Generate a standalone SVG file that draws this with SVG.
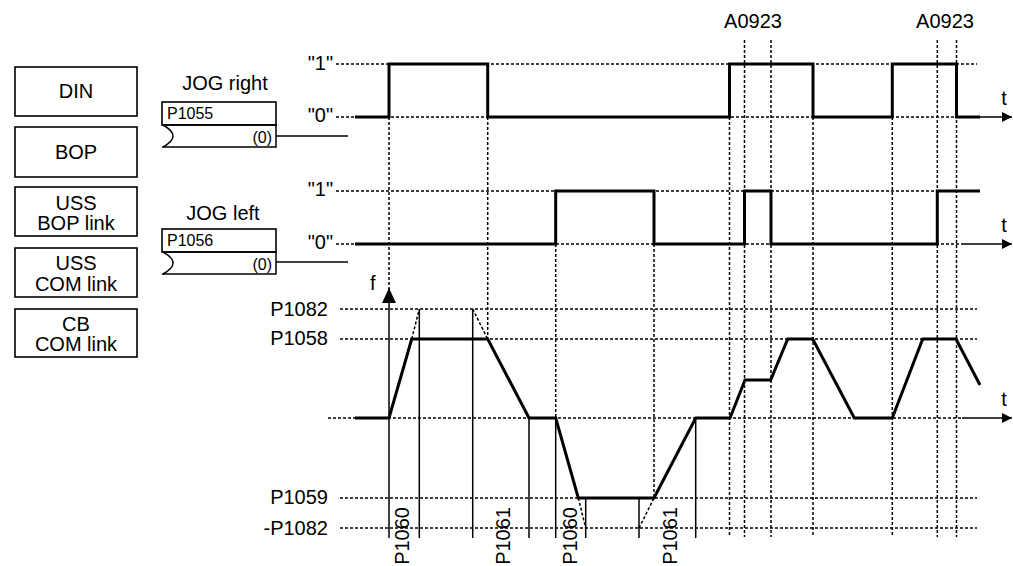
<svg xmlns="http://www.w3.org/2000/svg" width="1013" height="566" viewBox="0 0 1013 566">
<defs>
<marker id="arr" markerWidth="10" markerHeight="10" refX="10" refY="5" orient="auto" markerUnits="userSpaceOnUse"><path d="M0,0 L10,5 L0,10 z" fill="#000"/></marker>
<marker id="arrf" markerWidth="15" markerHeight="14" refX="15" refY="7" orient="auto" markerUnits="userSpaceOnUse"><path d="M0,0 L15,7 L0,14 z" fill="#000"/></marker>
<style>
text{font-family:"Liberation Sans",Arial,sans-serif;font-size:20px;fill:#000}
.sm{font-size:16px}
.box{fill:#fff;stroke:#000;stroke-width:1.6}
.dot{stroke:#000;stroke-width:1.5;stroke-dasharray:3 2;fill:none}
.sig{stroke:#000;stroke-width:3;fill:none;stroke-linejoin:miter}
.thin{stroke:#000;stroke-width:1.5;fill:none}
.c{text-anchor:middle}
.r{text-anchor:end}
</style>
</defs>
<rect width="1013" height="566" fill="#fff"/>

<g id="src-din"><rect class="box" x="15" y="67" width="122" height="49"/><text class="c" x="76" y="98">DIN</text></g>
<g id="src-bop"><rect class="box" x="15" y="127" width="122" height="50"/><text class="c" x="76" y="159">BOP</text></g>
<g id="src-uss-bop"><rect class="box" x="15" y="187" width="122" height="49"/><text class="c" x="76" y="210">USS</text><text class="c" x="76" y="230">BOP link</text></g>
<g id="src-uss-com"><rect class="box" x="15" y="248" width="122" height="49"/><text class="c" x="76" y="270">USS</text><text class="c" x="76" y="291">COM link</text></g>
<g id="src-cb-com"><rect class="box" x="15" y="309" width="122" height="48"/><text class="c" x="76" y="331">CB</text><text class="c" x="76" y="351">COM link</text></g>

<g id="jog-right">
<text class="c" x="225" y="90">JOG right</text>
<rect class="box" x="162" y="102" width="114" height="23"/>
<text class="sm" x="167" y="119">P1055</text>
<path class="thin" d="M163,125 H276 V147 H162" stroke-width="1.6"/>
<path class="thin" d="M163,125 Q183,136 163,147" stroke-width="1.6"/>
<text class="sm r" x="272" y="143">(0)</text>
</g>
<g id="jog-left">
<text class="c" x="223" y="220">JOG left</text>
<rect class="box" x="162" y="229" width="114" height="23"/>
<text class="sm" x="167" y="246">P1056</text>
<path class="thin" d="M163,252 H276 V274 H162" stroke-width="1.6"/>
<path class="thin" d="M163,252 Q183,263 163,274" stroke-width="1.6"/>
<text class="sm r" x="272" y="270">(0)</text>
</g>

<g id="connectors">
<line class="thin" x1="276" y1="136" x2="348" y2="136" stroke-width="1.6"/>
<line class="thin" x1="276" y1="262" x2="348" y2="262" stroke-width="1.6"/>
</g>

<g id="grid">
<line class="dot" x1="336" y1="64" x2="977" y2="64"/>
<line class="dot" x1="336" y1="117" x2="980" y2="117"/>
<line class="dot" x1="336" y1="191" x2="977" y2="191"/>
<line class="dot" x1="336" y1="244" x2="962" y2="244"/>
<line class="dot" x1="340" y1="309" x2="977" y2="309"/>
<line class="dot" x1="340" y1="339" x2="977" y2="339"/>
<line class="dot" x1="328" y1="418" x2="962" y2="418"/>
<line class="dot" x1="340" y1="498" x2="977" y2="498"/>
<line class="dot" x1="340" y1="528" x2="977" y2="528"/>
<line class="dot" x1="389" y1="117" x2="389" y2="290"/>
<line class="dot" x1="487.7" y1="117" x2="487.7" y2="339"/>
<line class="dot" x1="555.7" y1="244" x2="555.7" y2="418"/>
<line class="dot" x1="654" y1="244" x2="654" y2="498"/>
<line class="dot" x1="729.5" y1="117" x2="729.5" y2="537"/>
<line class="dot" x1="744.5" y1="40" x2="744.5" y2="537"/>
<line class="dot" x1="771" y1="40" x2="771" y2="537"/>
<line class="dot" x1="813" y1="117" x2="813" y2="537"/>
<line class="dot" x1="892.3" y1="117" x2="892.3" y2="537"/>
<line class="dot" x1="937.3" y1="40" x2="937.3" y2="537"/>
<line class="dot" x1="956.5" y1="40" x2="956.5" y2="537"/>
<line class="dot" x1="411.7" y1="339" x2="419.3" y2="309"/>
<line class="dot" x1="472.7" y1="309" x2="487.7" y2="339"/>
<line class="dot" x1="578.3" y1="498" x2="585.7" y2="528"/>
<line class="dot" x1="639" y1="528" x2="654" y2="498"/>
</g>

<g id="axes">
<line class="thin" x1="980" y1="117" x2="1012" y2="117" marker-end="url(#arr)"/>
<line class="thin" x1="962" y1="244" x2="1012" y2="244" marker-end="url(#arr)"/>
<line class="thin" x1="962" y1="418" x2="1012" y2="418" marker-end="url(#arr)"/>
<line class="thin" x1="389" y1="538" x2="389" y2="288" marker-end="url(#arrf)"/>
<line class="thin" x1="419.3" y1="309" x2="419.3" y2="538"/>
<line class="thin" x1="472.7" y1="309" x2="472.7" y2="538"/>
<line class="thin" x1="529" y1="418" x2="529" y2="538"/>
<line class="thin" x1="555.7" y1="418" x2="555.7" y2="538"/>
<line class="thin" x1="585.7" y1="498" x2="585.7" y2="538"/>
<line class="thin" x1="639" y1="498" x2="639" y2="538"/>
<line class="thin" x1="695.7" y1="418" x2="695.7" y2="538"/>
</g>

<g id="signal-jog-right"><path class="sig" d="M355,117 H389 V64 H487.7 V117 H729.5 V64 H813 V117 H892.3 V64 H956.5 V117 H980"/></g>
<g id="signal-jog-left"><path class="sig" d="M355,244 H555.7 V191 H654 V244 H744.5 V191 H771 V244 H937.3 V191 H980"/></g>
<g id="signal-f"><path class="sig" d="M355,418 H389 L411.7,339 H487.7 L529,418 H555.7 L578.3,498 H654 L695.7,418 H730 L745,380 H770.7 L787.7,339 H812.7 L854.3,418 H892.3 L922.7,339 H956 L980,385"/></g>

<g id="labels">
<text class="r" x="333" y="70">"1"</text>
<text class="r" x="333" y="122">"0"</text>
<text class="r" x="333" y="196">"1"</text>
<text class="r" x="333" y="249">"0"</text>
<text class="r" x="328" y="316">P1082</text>
<text class="r" x="328" y="345">P1058</text>
<text class="r" x="328" y="504">P1059</text>
<text class="r" x="328" y="535">-P1082</text>
<text x="370" y="290">f</text>
<text class="c" x="1004" y="105">t</text>
<text class="c" x="1004" y="232">t</text>
<text class="c" x="1004" y="406">t</text>
<text class="c" x="753" y="28">A0923</text>
<text class="c" x="945" y="28">A0923</text>
<text class="r" transform="translate(409,507) rotate(-90)">P1060</text>
<text class="r" transform="translate(510,507) rotate(-90)">P1061</text>
<text class="r" transform="translate(577,507) rotate(-90)">P1060</text>
<text class="r" transform="translate(677,507) rotate(-90)">P1061</text>
</g>
</svg>
